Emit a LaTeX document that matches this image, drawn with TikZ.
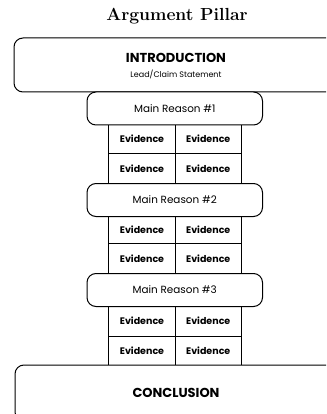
\documentclass[tikz,border=0pt]{standalone}
\usepackage{fontspec}
\newfontfamily\popp{Poppins}
\begin{document}
\begin{tikzpicture}[x=1pt,y=-1pt,
  frame/.style={draw=black, line width=1pt, rounded corners=9pt, inner sep=0pt},
  reason/.style={frame, minimum width=175.5pt, minimum height=33pt, font=\popp\fontsize{10.4}{12}\selectfont},
  cell/.style={draw=black, line width=1pt, minimum width=66.5pt, inner sep=0pt, font=\popp\bfseries\fontsize{9.5}{11}\selectfont},
  lbl/.style={inner sep=0pt}]
\useasboundingbox (0,0) rectangle (326,414);
\clip (0,0) rectangle (326,414);
\node[lbl, font=\bfseries\fontsize{17.5}{20}\selectfont] (title) at (177,16) {Argument Pillar};
% evidence grids
\foreach \r/\ya/\yb/\yc in {1/125/153/184, 2/216/243/274, 3/306/336/365}{
  \node[cell, minimum height={\yb-\ya}] (e\r a) at (142,{(\ya+\yb)/2}) {Evidence};
  \node[cell, minimum height={\yb-\ya}] (e\r b) at (208.25,{(\ya+\yb)/2}) {Evidence};
  \node[cell, minimum height={\yc-\yb}] (e\r c) at (142,{(\yb+\yc)/2}) {Evidence};
  \node[cell, minimum height={\yc-\yb}] (e\r d) at (208.25,{(\yb+\yc)/2}) {Evidence};
}
\node[frame, fill=white, minimum width=326pt, minimum height=54pt] (intro) at (177,65) {};
\node[lbl, font=\popp\bfseries\fontsize{13}{15}\selectfont] (introt) at (176,58) {INTRODUCTION};
\node[lbl, font=\popp\fontsize{8}{10}\selectfont] (introl) at (176,74) {Lead/Claim Statement};
\node[reason, fill=white] (r1) at (174.75,108.5) {Main Reason \#1};
\node[reason, fill=white] (r2) at (174.75,200) {Main Reason \#2};
\node[reason, fill=white] (r3) at (174.75,290) {Main Reason \#3};
\node[frame, fill=white, minimum width=326pt, minimum height=56pt] (concl) at (178,393) {};
\node[lbl, font=\popp\bfseries\fontsize{13}{15}\selectfont] (conclt) at (176,393) {CONCLUSION};
\end{tikzpicture}
\end{document}
